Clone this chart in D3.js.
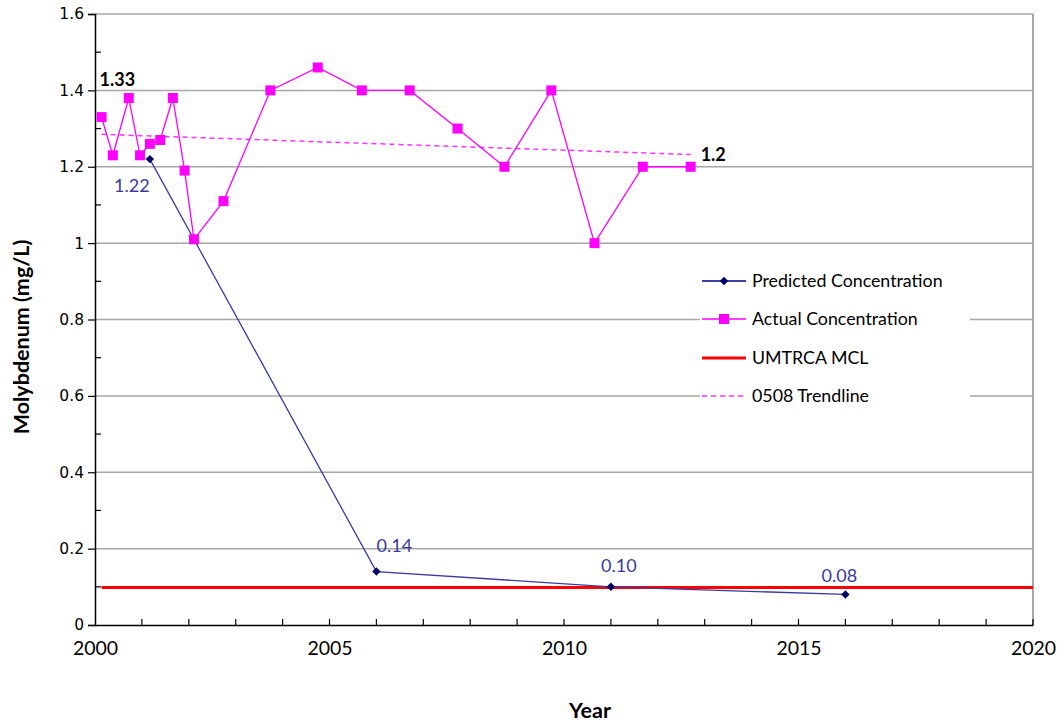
<!DOCTYPE html>
<html>
<head>
<meta charset="utf-8">
<script src="https://cdn.jsdelivr.net/npm/d3@7/dist/d3.min.js"></script>
<style>
  html, body { margin: 0; padding: 0; background: #fff; }
  svg { display: block; }
</style>
</head>
<body>
<svg id="chart" width="1058" height="724"></svg>
<script>
// ---- Data ----
const actualYears  = [2000.14, 2000.38, 2000.72, 2000.96, 2001.17, 2001.39, 2001.66, 2001.91, 2002.11, 2002.74,
                      2003.74, 2004.75, 2005.69, 2006.71, 2007.73, 2008.73, 2009.73, 2010.65, 2011.68, 2012.70];
const actualValues = [1.33, 1.23, 1.38, 1.23, 1.26, 1.27, 1.38, 1.19, 1.01, 1.11,
                      1.40, 1.46, 1.40, 1.40, 1.30, 1.20, 1.40, 1.00, 1.20, 1.20];
const predictedYears  = [2001.17, 2006.0, 2011.0, 2016.0];
const predictedValues = [1.22, 0.14, 0.10, 0.08];
const predictedLabels = ["1.22", "0.14", "0.10", "0.08"];
const mclYears  = [2000.14, 2020];
const mclValues = [0.098, 0.098];
const trendYears  = [2000.14, 2012.70];
const trendValues = [1.285, 1.232];
const trendStartLabel = "1.33";
const trendEndLabel = "1.2";
const xTicks = [2000, 2005, 2010, 2015, 2020];
const yTicks = [0, 0.2, 0.4, 0.6, 0.8, 1, 1.2, 1.4, 1.6];
const legendItems = ["Predicted Concentration", "Actual Concentration", "UMTRCA MCL", "0508 Trendline"];

// ---- Layout ----
const svg = d3.select("#chart");
const L = 95, R = 1033, T = 14, B = 625;
const x = d3.scaleLinear().domain([2000, 2020]).range([L, R]);
const y = d3.scaleLinear().domain([0, 1.6]).range([B, T]);

const labelFont = "Lato, 'Liberation Sans', sans-serif";
const tickFont = "'DejaVu Sans', Verdana, sans-serif";

// grid lines
svg.append("g").selectAll("line").data(yTicks.filter(d => d > 0))
  .join("line")
  .attr("x1", L).attr("x2", R)
  .attr("y1", d => y(d)).attr("y2", d => y(d))
  .attr("stroke", "#a6a6a6").attr("stroke-width", 1.5);

// right border
svg.append("line").attr("x1", R).attr("x2", R).attr("y1", T).attr("y2", B)
  .attr("stroke", "#a6a6a6").attr("stroke-width", 2);

// Legend background (covers gridlines)
const legX = 700, legY = 262;
svg.append("rect").attr("x", legX).attr("y", legY).attr("width", 270).attr("height", 153)
  .attr("fill", "#fff");

// Y axis
const yAxis = d3.axisLeft(y).tickValues(yTicks).tickFormat(d => d3.format("")(d)).tickSize(7).tickPadding(4);
const gy = svg.append("g").attr("transform", `translate(${L},0)`).call(yAxis);
gy.select(".domain").attr("stroke", "#000").attr("stroke-width", 1.5);
gy.selectAll(".tick line").attr("stroke", "#000").attr("stroke-width", 1.2);
gy.selectAll(".tick text").attr("font-family", tickFont).attr("font-size", 15.5).attr("fill", "#000");
// minor y ticks (inside)
const yMinor = d3.range(0.1, 1.6, 0.2);
svg.append("g").selectAll("line").data(yMinor).join("line")
  .attr("x1", L).attr("x2", L + 6).attr("y1", d => y(d)).attr("y2", d => y(d))
  .attr("stroke", "#000").attr("stroke-width", 1.2);

// X axis
const xAxis = d3.axisBottom(x).tickValues(xTicks).tickFormat(d3.format("d")).tickSize(0).tickPadding(16);
const gx = svg.append("g").attr("transform", `translate(0,${B})`).call(xAxis);
gx.select(".domain").attr("stroke", "#000").attr("stroke-width", 1.5);
gx.selectAll(".tick text").attr("font-family", labelFont).attr("font-size", 19.5).attr("fill", "#000");
// yearly ticks (inside)
svg.append("g").selectAll("line").data(d3.range(2001, 2021)).join("line")
  .attr("x1", d => x(d)).attr("x2", d => x(d)).attr("y1", B).attr("y2", B - 6)
  .attr("stroke", "#000").attr("stroke-width", 1.2);

// Axis titles
svg.append("text").attr("transform", `translate(29,337) rotate(-90)`)
  .attr("text-anchor", "middle").attr("font-family", labelFont).attr("font-weight", "bold")
  .attr("font-size", 21.5).text("Molybdenum (mg/L)");
svg.append("text").attr("x", 590).attr("y", 718)
  .attr("text-anchor", "middle").attr("font-family", labelFont).attr("font-weight", "bold")
  .attr("font-size", 21.5).text("Year");

// MCL line
const lineGen = d3.line().x(d => x(d[0])).y(d => y(d[1]));
svg.append("path").datum(mclYears.map((d, i) => [d, mclValues[i]]))
  .attr("d", lineGen).attr("fill", "none").attr("stroke", "#ff0000").attr("stroke-width", 3);

// Trendline
svg.append("path").datum(trendYears.map((d, i) => [d, trendValues[i]]))
  .attr("d", lineGen).attr("fill", "none").attr("stroke", "#ff33ff").attr("stroke-width", 1.5)
  .attr("stroke-dasharray", "5,4");

// Actual line
const actual = actualYears.map((d, i) => [d, actualValues[i]]);
svg.append("path").datum(actual).attr("d", lineGen)
  .attr("fill", "none").attr("stroke", "#ff00ff").attr("stroke-width", 1.3);

// Predicted line
const predicted = predictedYears.map((d, i) => [d, predictedValues[i]]);
svg.append("path").datum(predicted).attr("d", lineGen)
  .attr("fill", "none").attr("stroke", "#3b3b9e").attr("stroke-width", 1.3);

// Actual markers
svg.append("g").selectAll("rect").data(actual).join("rect")
  .attr("x", d => x(d[0]) - 5).attr("y", d => y(d[1]) - 5)
  .attr("width", 10).attr("height", 10).attr("fill", "#ff00ff");

// Predicted markers (diamonds)
const diamond = d3.symbol().type(d3.symbolDiamond2).size(45);
svg.append("g").selectAll("path").data(predicted).join("path")
  .attr("transform", d => `translate(${x(d[0])},${y(d[1])})`)
  .attr("d", diamond).attr("fill", "#000066");

// Predicted labels
const predOffsets = [[-18, 27], [18, -26], [8, -21], [-6, -18]];
svg.append("g").selectAll("text").data(predicted).join("text")
  .attr("x", (d, i) => x(d[0]) + predOffsets[i][0])
  .attr("y", (d, i) => y(d[1]) + predOffsets[i][1] + 6)
  .attr("text-anchor", "middle").attr("font-family", labelFont).attr("font-size", 18)
  .attr("fill", "#3a3a9a").text((d, i) => predictedLabels[i]);

// Trend labels
svg.append("text").attr("x", x(trendYears[0]) - 2).attr("y", y(trendValues[0]) - 48)
  .attr("font-family", labelFont).attr("font-weight", "bold").attr("font-size", 18)
  .attr("fill", "#000").text(trendStartLabel);
svg.append("text").attr("x", x(trendYears[1]) + 10).attr("y", y(trendValues[1]) + 6)
  .attr("font-family", labelFont).attr("font-weight", "bold").attr("font-size", 18)
  .attr("fill", "#000").text(trendEndLabel);

// Legend
const legRows = [281, 319, 358, 396];
const lg = svg.append("g");
legendItems.forEach((name, i) => {
  const yy = legRows[i];
  const x0 = 702, x1 = 746;
  const ln = lg.append("line").attr("x1", x0).attr("x2", x1).attr("y1", yy).attr("y2", yy);
  if (i === 0) {
    ln.attr("stroke", "#000080").attr("stroke-width", 1.5);
    lg.append("path").attr("transform", `translate(${(x0 + x1) / 2},${yy})`).attr("d", diamond).attr("fill", "#000066");
  } else if (i === 1) {
    ln.attr("stroke", "#ff00ff").attr("stroke-width", 1.3);
    lg.append("rect").attr("x", (x0 + x1) / 2 - 5).attr("y", yy - 5).attr("width", 10).attr("height", 10).attr("fill", "#ff00ff");
  } else if (i === 2) {
    ln.attr("stroke", "#ff0000").attr("stroke-width", 3);
  } else {
    ln.attr("stroke", "#ff33ff").attr("stroke-width", 1.5).attr("stroke-dasharray", "5,4");
  }
  lg.append("text").attr("x", 752).attr("y", yy + 6)
    .attr("font-family", labelFont).attr("font-size", 17.8).attr("fill", "#000").text(name);
});
</script>
</body>
</html>
